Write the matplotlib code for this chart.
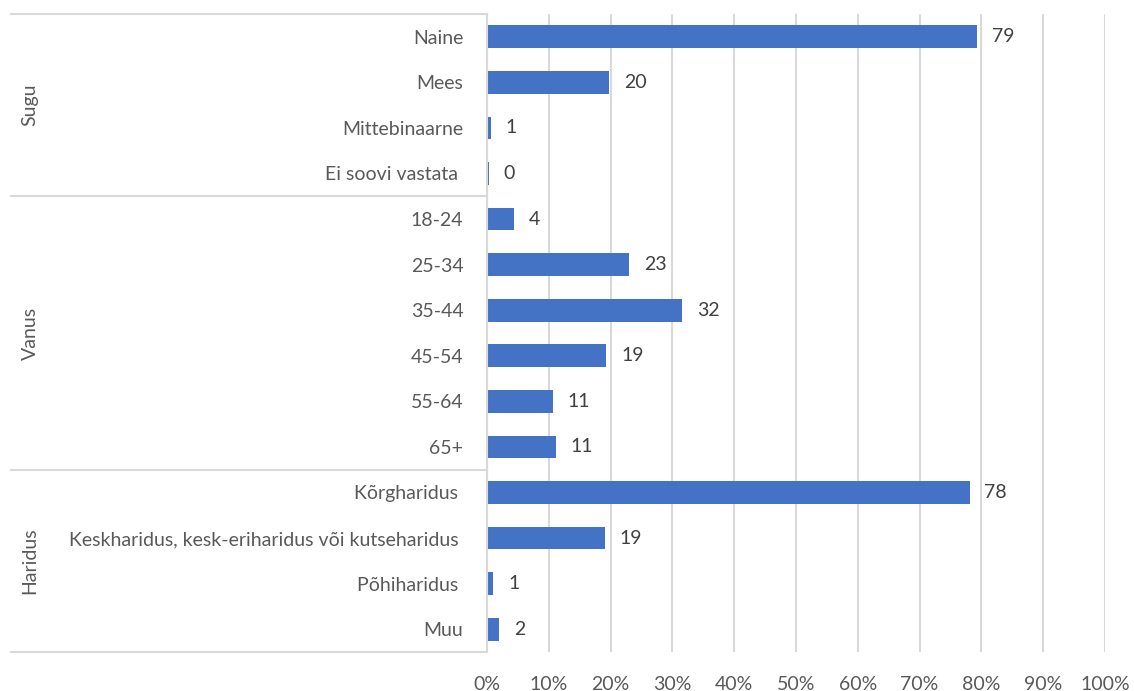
import matplotlib
matplotlib.use("Agg")
import matplotlib.pyplot as plt
from matplotlib.transforms import blended_transform_factory

plt.rcParams['font.family'] = ['Lato', 'DejaVu Sans']

categories = ["Naine", "Mees", "Mittebinaarne", "Ei soovi vastata ",
              "18-24", "25-34", "35-44", "45-54", "55-64", "65+",
              "Kõrgharidus ", "Keskharidus, kesk-eriharidus või kutseharidus ",
              "Põhiharidus ", "Muu"]
values = [79.3, 19.8, 0.6, 0.3,
          4.4, 23.0, 31.6, 19.3, 10.6, 11.1,
          78.1, 19.1, 1.0, 2.0]
labels = ["79", "20", "1", "0", "4", "23", "32", "19", "11", "11",
          "78", "19", "1", "2"]
groups = ["Sugu", "Vanus", "Haridus"]
group_sizes = [4, 6, 4]

text_col = "#595959"
grid_col = "#D9D9D9"
bar_col = "#4472C4"
fs = 14

fig = plt.figure(figsize=(11.34, 6.91), dpi=100)
ax = fig.add_axes([487 / 1134, 1 - 652 / 691, 618 / 1134, 638 / 691])

y = list(range(len(categories)))
ax.barh(y, values, height=0.5, color=bar_col, zorder=3)

for yi, v, lab in zip(y, values, labels):
    ax.text(v + 2.4, yi, lab, va="center", ha="left", fontsize=fs, color="#404040")

ax.set_xlim(0, 100)
ax.set_ylim(len(categories) - 0.5, -0.5)
ax.set_xticks(range(0, 101, 10))
ax.set_xticklabels([f"{t}%" for t in range(0, 101, 10)])
ax.set_yticks(y)
ax.set_yticklabels(categories)
ax.tick_params(axis="both", length=0, labelsize=fs, labelcolor=text_col)
ax.tick_params(axis="y", pad=17)
ax.tick_params(axis="x", pad=17)
ax.grid(axis="x", color=grid_col, linewidth=1.5, zorder=0)

for s in ["top", "right", "bottom"]:
    ax.spines[s].set_visible(False)
ax.spines["left"].set_color(grid_col)
ax.spines["left"].set_linewidth(1.5)
ax.spines["left"].set_zorder(4)

# group boxes on the left
tr = blended_transform_factory(ax.transAxes, ax.transData)
x0 = -0.770
start = -0.5
for g, n in zip(groups, group_sizes):
    ax.plot([x0, 0], [start, start], color=grid_col, lw=1.5, transform=tr, clip_on=False)
    ax.text(-0.7395, start + n / 2, g, rotation=90, va="center", ha="center",
            fontsize=fs, color=text_col, transform=tr)
    start += n
ax.plot([x0, 0], [start, start], color=grid_col, lw=1.5, transform=tr, clip_on=False)

fig.savefig("out.png", dpi=100)
